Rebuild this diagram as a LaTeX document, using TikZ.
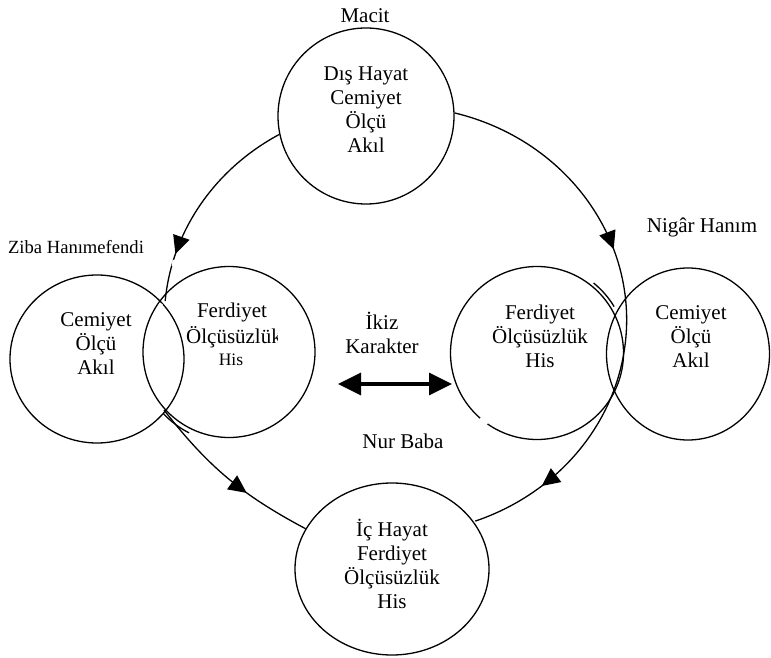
\documentclass[tikz,border=0pt]{standalone}
\usepackage{fontspec}
\setmainfont{Liberation Serif}
\usetikzlibrary{shapes.geometric,arrows.meta,decorations.markings}
\begin{document}
\begin{tikzpicture}[x=1pt,y=1pt,
  ring/.style={draw,ellipse,line width=1.3pt,inner sep=0pt},
  txt/.style={font=\fontsize{21}{24}\selectfont,align=center,anchor=base,inner sep=0pt},
  conn/.style={line width=1.3pt},
  gap/.style={draw=white,line width=3.5pt},
  tri/.tip={Triangle[length=18pt,width=17pt]},
  dtri/.tip={Triangle[length=23pt,width=22pt]},
]
\useasboundingbox (0,0) rectangle (771,657);

% circles
\node[ring,minimum width=176pt,minimum height=176pt] (top) at (366,541) {};
\node[ring,minimum width=194pt,minimum height=172pt] (bot) at (392,88) {};
\node[ring,minimum width=174pt,minimum height=168pt] (zc) at (97,298) {};
\node[ring,minimum width=172pt,minimum height=171pt] (zf) at (229,305) {};
\node[ring,minimum width=173pt,minimum height=173pt] (nf) at (537,304) {};
\node[ring,minimum width=163pt,minimum height=172pt] (nc) at (688,303) {};

% texts in circles (anchor base = last line)
\node[txt] (toptext) at (366,504) {Dış Hayat\\Cemiyet\\Ölçü\\Akıl};
\node[txt] (bottext) at (392,49) {İç Hayat\\Ferdiyet\\Ölçüsüzlük\\His};
\node[txt] (zctext) at (96,283) {Cemiyet\\Ölçü\\Akıl};
\node[txt] (zf1) at (232,339) {Ferdiyet};
\begin{scope}
\clip (150,300) rectangle (277,340);
\node[txt] (zf2) at (234,314) {Ölçüsüzlük};
\end{scope}
\node[txt,font=\fontsize{17.5}{20}\selectfont] (zf3) at (231,292) {His};
\node[txt] (nftext) at (540,290) {Ferdiyet\\Ölçüsüzlük\\His};
\node[txt] (nctext) at (691,290) {Cemiyet\\Ölçü\\Akıl};

% labels
\node[txt] (macit) at (365,634) {Macit};
\node[txt] (nigar) at (702,424) {Nigâr Hanım};
\node[txt,font=\fontsize{18.6}{22}\selectfont] (ziba) at (76,403) {Ziba Hanımefendi};
\node[txt] (nur) at (403,209) {Nur Baba};
\node[txt] (ikiz) at (382,304) {İkiz\\Karakter};

% connectors
\draw[conn,postaction={decorate},decoration={markings,
  mark=at position 0.39 with {\arrow{tri}},
  mark=at position 0.865 with {\arrow{tri}}}]
  (top.2) arc[start angle=75.4,end angle=-70,x radius=230,y radius=214];
\draw[conn,postaction={decorate},decoration={markings,
  mark=at position 0.77 with {\arrow{tri}}}]
  (top.192.3) arc[start angle=120,end angle=175,x radius=230,y radius=214];
\coordinate (zbot) at (164,247);
\draw[conn,postaction={decorate},decoration={markings,
  mark=at position 0.63 with {\arrow{tri}}}]
  (zbot) to[out=-52,in=152] (bot.155);

% short double strokes
\draw[conn] (nf.center) ++(51:90) arc[start angle=51,end angle=31,radius=90];
\draw[conn] (zf.center) ++(223:90) arc[start angle=223,end angle=243,radius=93];

% small breaks in the outlines
\draw[gap] (nf.229.5) -- (nf.235.5);
\draw[gap] (174.2,397) -- (173.4,391);
\draw[gap] (161.3,353.5) -- (158.3,348.5);

% twin arrow
\coordinate (ka) at (338,273);
\coordinate (kb) at (452,273);
\draw[line width=3.3pt,dtri-dtri] (ka) -- (kb);
\end{tikzpicture}
\end{document}
